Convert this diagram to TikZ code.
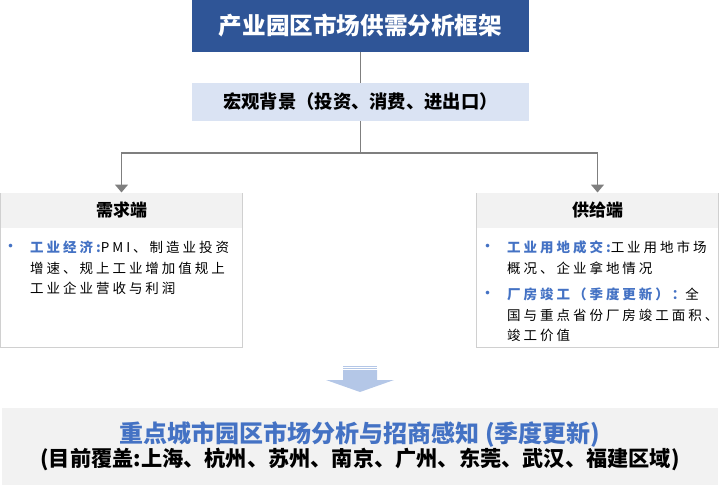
\documentclass[tikz,border=0pt]{standalone}
\usepackage{fontspec}
\setmainfont{Noto Sans CJK SC}
\usepackage{xcolor}
\usetikzlibrary{arrows.meta, positioning, calc}

\definecolor{TitleBlue}{HTML}{2F5597}
\definecolor{MacroBlue}{HTML}{DAE3F3}
\definecolor{HeadGray}{HTML}{F2F2F2}
\definecolor{EdgeGray}{HTML}{D0D0D0}
\definecolor{LineGray}{HTML}{7F7F7F}
\definecolor{LabelBlue}{HTML}{4472C4}
\definecolor{ArrowBlue}{HTML}{B4C7E7}

\newcommand{\bulletmark}{\llap{\textcolor{LabelBlue}{\fontsize{17}{17}\selectfont •}\hspace{11pt}}}
\newcommand{\keyword}[1]{{\bfseries\color{LabelBlue}#1}}

\begin{document}
\begin{tikzpicture}[
        x=1pt, y=-1pt,
        titlebox/.style={
            rectangle,
            fill=TitleBlue,
            text=white,
            font=\fontsize{23.6}{26}\selectfont\bfseries,
            minimum width=337pt,
            minimum height=52pt
        },
        macrobox/.style={
            rectangle,
            fill=MacroBlue,
            font=\fontsize{18.3}{20}\selectfont\bfseries,
            minimum width=337pt,
            minimum height=38pt
        },
        sidebox/.style={
            rectangle,
            draw=EdgeGray,
            line width=1pt,
            minimum width=242pt,
            minimum height=154pt
        },
        headbox/.style={
            rectangle,
            fill=HeadGray,
            font=\fontsize{17}{20}\selectfont\bfseries,
            minimum width=241pt,
            minimum height=35pt
        },
        itemtext/.style={
            inner sep=0pt,
            align=left,
            font=\fontsize{13.5}{20.5}\selectfont\addfontfeature{LetterSpace=22}
        },
        band/.style={
            rectangle,
            fill=HeadGray,
            align=center,
            minimum width=716pt,
            minimum height=77pt
        },
        link/.style={
            line width=1.5pt,
            LineGray
        },
        arrow/.style={
            link,
            -{Triangle[width=13pt,length=8pt]}
        }
    ]
    \useasboundingbox (0,0) rectangle (720,485);

    % Top tier
    \node[titlebox] (title) at (360.5,26) {产业园区市场供需分析框架};
    \node[macrobox] (macro) at (360.5,102) {宏观背景（投资、消费、进出口）};

    % Demand side
    \node[sidebox] (demand) at (121.5,270) {};
    \node[headbox, anchor=north] (demandhead) at (demand.north) {需求端};
    \node[itemtext, anchor=north west] (demandtext) at (30,241)
        {\bulletmark\keyword{工业经济:}PMI、制造业投资\\
         增速、规上工业增加值规上\\
         工业企业营收与利润};

    % Supply side
    \node[sidebox] (supply) at (597.5,270) {};
    \node[headbox, anchor=north] (supplyhead) at (supply.north) {供给端};
    \node[itemtext, anchor=north west] (supplytext) at (507,241)
        {\bulletmark\keyword{工业用地成交:}工业用地市场\\
         概况、企业拿地情况\\[6pt]
         \bulletmark\keyword{厂房竣工（季度更新）：}全\\
         国与重点省份厂房竣工面积、\\
         竣工价值};

    % Connectors
    \coordinate (fork) at (360.5,153);
    \draw[link] (title) -- (macro);
    \draw[link] (macro) -- (fork);
    \draw[arrow] (fork) -| (demandhead);
    \draw[arrow] (fork) -| (supplyhead);

    % Down arrow
    \draw[ArrowBlue, line width=0.8pt] (343,366) -- (377,366);
    \draw[ArrowBlue, line width=0.8pt] (343,368.5) -- (377,368.5);
    \fill[ArrowBlue] (343,370) -- (377,370) -- (377,380) -- (394,380)
        -- (360,392) -- (326,380) -- (343,380) -- cycle;

    % Result band
    \node[band] (region) at (360,446.5)
        {{\fontsize{24}{30}\selectfont\bfseries\color{LabelBlue}重点城市园区市场分析与招商感知 (季度更新)}\\
         {\fontsize{21.2}{29}\selectfont\bfseries (目前覆盖:上海、杭州、苏州、南京、广州、东莞、武汉、福建区域)}};

\end{tikzpicture}
\end{document}
